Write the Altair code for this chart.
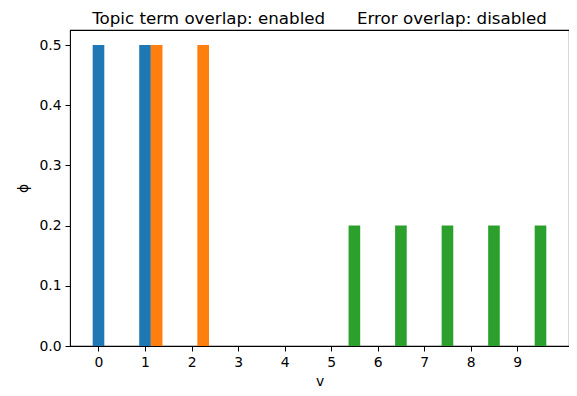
import altair as alt
import pandas as pd

# data
v_blue = [0, 1]
phi_blue = [0.5, 0.5]
v_orange = [1, 2]
phi_orange = [0.5, 0.5]
v_green = [5, 6, 7, 8, 9]
phi_green = [0.2, 0.2, 0.2, 0.2, 0.2]
series_names = ["blue", "orange", "green"]
series_offsets = [0.0, 0.25, 0.5]
bar_width = 0.25
x_ticks = [0, 1, 2, 3, 4, 5, 6, 7, 8, 9]
y_ticks = [0.0, 0.1, 0.2, 0.3, 0.4, 0.5]
colors = ["#1f77b4", "#ff7f0e", "#2ca02c"]

rows = []
for name, off, vs, ps in zip(series_names, series_offsets,
                             [v_blue, v_orange, v_green],
                             [phi_blue, phi_orange, phi_green]):
    for v, p in zip(vs, ps):
        rows.append({"v": v, "phi": p, "series": name, "offset": off})
df = pd.DataFrame(rows)

FONT = "DejaVu Sans"
sp = "\u00a0" * 6
title = f"Topic term overlap: enabled{sp}Error overlap: disabled"

chart = alt.Chart(df).transform_calculate(
    x0=f"datum.v + datum.offset - {bar_width/2}",
    x1=f"datum.v + datum.offset + {bar_width/2}",
).mark_bar(stroke=None).encode(
    x=alt.X("x0:Q", scale=alt.Scale(domain=[-0.6125, 10.1125], nice=False, zero=False),
            axis=alt.Axis(values=x_ticks, format="d", title="v", grid=False, domain=False,
                          tickColor="black", tickSize=5, labelPadding=4,
                          labelColor="black", labelFontSize=13.9, labelFont=FONT,
                          titleFont=FONT, titleFontSize=13.9, titleFontWeight="normal",
                          titleColor="black", titlePadding=6)),
    x2="x1:Q",
    y=alt.Y("phi:Q", scale=alt.Scale(domain=[0, 0.525], nice=False, zero=True),
            axis=alt.Axis(values=y_ticks, format=".1f", title="ϕ", grid=False, domain=False,
                          tickColor="black", tickSize=5, labelPadding=4,
                          labelColor="black", labelFontSize=13.9, labelFont=FONT,
                          titleFont=FONT, titleFontSize=13.9, titleFontWeight="normal",
                          titleColor="black", titlePadding=8)),
    y2=alt.Y2Datum(0),
    color=alt.Color("series:N", scale=alt.Scale(domain=series_names, range=colors), legend=None),
).properties(
    width=499, height=316,
    title=alt.TitleParams(title, font=FONT, fontSize=16.7, fontWeight="normal",
                          color="black", anchor="middle", offset=2),
    padding={"left": 62, "top": 22, "right": 0, "bottom": 42},
    autosize="none",
).configure_view(stroke="black", strokeWidth=1.1)

chart.save("out.html", embed_options={"renderer": "svg", "actions": False})
